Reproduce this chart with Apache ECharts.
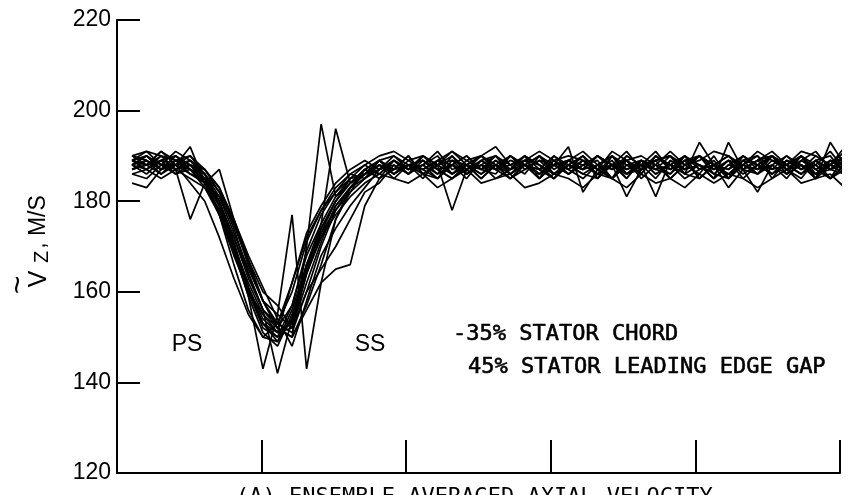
<!DOCTYPE html>
<html>
<head>
<meta charset="utf-8">
<script src="https://cdn.jsdelivr.net/npm/echarts@6/dist/echarts.min.js"></script>
<style>
html,body{margin:0;padding:0;background:#fff;}
#c{width:850px;height:495px;}
</style>
</head>
<body>
<div id="c"></div>
<script>
// Y-axis tick values (m/s)
var yTicks = [120, 140, 160, 180, 200, 220];
// sample positions along the pitch (axis units; 10 samples per major tick)
var X_START = 1.04, X_STEP = 1.006;

// Ensemble-averaged axial velocity traces (m/s), 50 samples each
var trace01 = [188,190,187,189,186,184,178,170,160,152, 150,157,168,175,181,184,186,188,187,190, 186,188,189,186,188,190,187,189,186,188, 189,187,190,188,186,189,187,188,190,187, 188,186,189,188,190,187,188,186,189,188];
var trace02 = [190,188,191,188,187,183,177,166,156,150, 149,154,166,173,178,182,187,185,189,187, 188,191,187,188,186,189,187,190,188,186, 188,190,187,185,188,189,186,188,187,190, 188,187,189,186,188,190,187,189,187,186];
var trace03 = [188,187,189,190,188,186,181,175,166,158, 155,177,143,162,176,183,186,188,185,188, 189,187,185,188,190,188,186,189,188,185, 188,187,190,188,186,187,189,190,187,188, 185,188,190,188,186,189,188,185,188,190];
var trace04 = [187,189,186,189,190,187,183,176,167,158, 152,150,170,197,181,185,188,186,189,187, 188,186,190,186,188,187,190,188,186,189, 186,189,187,188,191,187,188,185,188,190, 187,189,186,188,190,187,189,191,187,188];
var trace05 = [189,187,190,187,188,185,179,170,160,153, 149,156,166,175,196,184,187,189,186,188, 187,189,186,188,185,188,190,187,189,186, 189,188,186,190,187,189,186,188,190,185, 188,187,190,188,186,189,187,190,188,186];
var trace06 = [190,189,187,190,187,184,179,172,164,156, 152,150,156,162,165,166,179,185,187,188, 185,189,188,186,189,187,188,190,187,188, 186,188,190,187,189,185,188,187,190,188, 186,185,189,190,187,188,186,189,187,190];
var trace07 = [188,190,187,188,189,186,179,169,159,143, 155,152,164,172,179,183,187,186,189,187, 190,188,186,188,190,187,185,188,187,190, 188,186,188,185,189,187,189,190,186,185, 188,190,187,189,186,188,190,185,188,187];
var trace08 = [187,188,191,189,187,185,180,172,163,156, 142,154,166,174,180,185,186,189,190,187, 188,185,189,188,186,188,187,190,185,188, 189,187,190,188,185,189,187,190,188,186, 190,185,188,187,190,188,186,188,185,190];
var trace09 = [189,191,188,188,192,184,181,173,165,158, 153,151,160,170,178,183,186,187,189,186, 189,187,185,188,187,190,188,186,190,188, 187,185,188,190,186,188,185,189,187,190, 188,186,188,190,185,189,187,188,191,187];
var trace10 = [186,185,188,187,176,184,187,176,166,158, 152,150,157,166,176,182,185,188,186,189, 187,185,188,190,187,188,185,188,187,185, 188,190,187,185,188,186,190,188,185,187, 189,185,190,187,188,185,189,187,185,188];
var trace11 = [184,183,187,190,188,186,179,170,161,154, 151,153,164,173,180,184,187,189,186,188, 186,188,190,187,188,185,187,188,190,186, 188,186,185,190,188,187,189,190,186,188, 185,188,187,189,190,186,188,185,189,187];
var trace12 = [188,186,189,188,186,185,177,168,160,155, 152,157,169,177,182,185,186,188,187,190, 186,188,178,187,189,190,186,188,185,188, 192,182,187,189,185,189,188,186,190,187, 188,185,188,187,190,188,186,189,185,188];
var trace13 = [189,188,186,188,190,186,180,170,162,155, 151,152,162,171,179,183,185,187,189,187, 190,188,186,188,185,188,187,190,188,186, 188,187,190,188,181,187,190,188,186,193, 188,183,187,189,190,186,188,185,193,188];
var trace14 = [188,190,188,186,188,184,177,169,160,153, 150,154,165,174,180,184,186,189,187,188, 186,185,188,190,187,189,186,188,185,190, 187,189,186,188,187,188,181,189,187,188, 185,193,187,182,188,186,190,188,185,187];
var trace15 = [190,191,190,189,188,187,182,174,164,156, 153,162,172,178,183,186,188,190,191,189, 190,188,191,189,190,192,188,189,191,189, 190,189,187,191,189,190,188,191,188,189, 191,190,188,191,189,188,191,190,188,192];
var trace16 = [186,187,185,187,185,183,178,169,159,151, 148,155,165,172,177,181,184,186,185,184, 186,183,185,187,184,185,186,183,184,186, 185,183,186,185,183,186,184,185,183,186, 184,186,185,183,185,187,184,185,186,183];
var trace17 = [189,188,190,187,189,187,183,175,167,160, 157,152,160,165,170,176,182,184,188,186, 190,187,188,185,189,187,190,188,186,189, 187,190,185,188,189,186,190,187,189,185, 188,190,187,186,189,187,190,186,188,191];
var trace18 = [188,189,187,188,184,180,172,163,155,150, 153,160,171,178,182,186,185,189,187,188, 189,186,188,187,190,188,185,187,189,188, 186,188,189,185,190,188,187,186,189,188, 187,189,185,188,187,190,188,186,187,189];
var trace19 = [187,188,189,186,187,186,182,176,168,161, 154,148,158,168,174,179,183,187,188,186, 188,190,186,189,187,186,190,188,187,185, 189,187,188,190,186,188,189,185,188,190, 186,189,188,186,190,187,185,189,190,186];
var trace20 = [189,190,188,191,189,185,180,171,161,153, 151,162,173,179,184,187,189,187,190,188, 187,189,191,188,190,187,189,188,190,187, 189,191,188,187,190,188,191,187,189,190, 188,190,187,189,191,188,190,187,189,188];

var traces = [trace01,trace02,trace03,trace04,trace05,trace06,trace07,trace08,trace09,trace10,
              trace11,trace12,trace13,trace14,trace15,trace16,trace17,trace18,trace19,trace20];

var chart = echarts.init(document.getElementById('c'), null, {renderer:'canvas'});

var series = traces.map(function(t){
  return {
    type:'line',
    data: t.map(function(v,i){ return [X_START + X_STEP*i, v]; }),
    showSymbol:false,
    symbol:'none',
    clip:false,
    silent:true,
    lineStyle:{color:'#000', width:1.7},
    emphasis:{disabled:true}
  };
});

var mono = '"DejaVu Sans Mono", monospace';
var sans = '"Liberation Sans", Arial, sans-serif';

chart.setOption({
  animation:false,
  backgroundColor:'#fff',
  grid:{left:117, right:10, top:20, bottom:22, containLabel:false},
  xAxis:{
    type:'value', min:0, max:50, interval:10,
    axisLine:{show:true, lineStyle:{color:'#000', width:2}},
    axisTick:{show:true, inside:true, length:33, lineStyle:{color:'#000', width:2}},
    axisLabel:{show:false},
    splitLine:{show:false}
  },
  yAxis:{
    type:'value', min:yTicks[0], max:yTicks[yTicks.length-1], interval:20,
    axisLine:{show:true, lineStyle:{color:'#000', width:2}},
    axisTick:{show:true, inside:true, length:23, lineStyle:{color:'#000', width:2}},
    axisLabel:{color:'#000', fontFamily:sans, fontSize:23, margin:6},
    splitLine:{show:false}
  },
  graphic:[
    {type:'text', x:19, y:285, rotation:Math.PI/2,
      style:{text:'~', font:'32px '+sans, fill:'#000', align:'center', verticalAlign:'middle'}},
    {type:'text', x:39, y:279, rotation:Math.PI/2,
      style:{text:'V', font:'25px '+sans, fill:'#000', align:'center', verticalAlign:'middle'}},
    {type:'text', x:42, y:257, rotation:Math.PI/2,
      style:{text:'Z', font:'20px '+sans, fill:'#000', align:'center', verticalAlign:'middle'}},
    {type:'text', x:39, y:222, rotation:Math.PI/2,
      style:{text:', M/S', font:'23px '+sans, fill:'#000', align:'center', verticalAlign:'middle'}},
    {type:'text', x:187, y:345,
      style:{text:'PS', font:'23px '+sans, fill:'#000', align:'center', verticalAlign:'middle'}},
    {type:'text', x:370, y:345,
      style:{text:'SS', font:'23px '+sans, fill:'#000', align:'center', verticalAlign:'middle'}},
    {type:'text', x:453, y:334,
      style:{text:'-35% STATOR CHORD', font:'22px '+mono, fill:'#000', stroke:'#000', lineWidth:0.6, align:'left', verticalAlign:'middle'}},
    {type:'text', x:468, y:367,
      style:{text:'45% STATOR LEADING EDGE GAP', font:'22px '+mono, fill:'#000', stroke:'#000', lineWidth:0.6, align:'left', verticalAlign:'middle'}},
    {type:'text', x:236, y:497,
      style:{text:'(A) ENSEMBLE-AVERAGED AXIAL VELOCITY', font:'22px '+mono, fill:'#000', align:'left', verticalAlign:'middle'}}
  ],
  series: series
});
</script>
</body>
</html>
